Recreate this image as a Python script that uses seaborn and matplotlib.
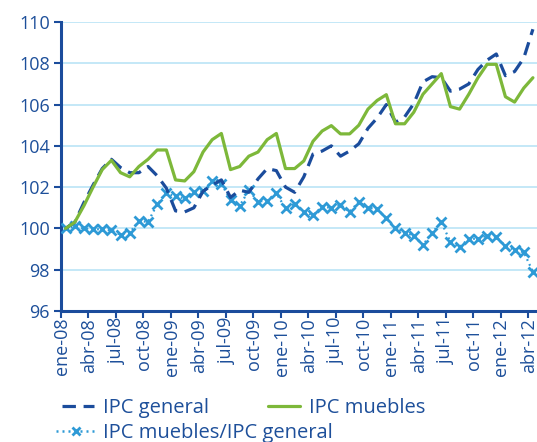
import matplotlib
matplotlib.use("Agg")
import matplotlib.pyplot as plt
from matplotlib.lines import Line2D
from matplotlib.transforms import ScaledTranslation
import seaborn as sns
import numpy as np
import pandas as pd

# ---- data ----
meses = ["ene", "feb", "mar", "abr", "may", "jun", "jul", "ago", "sep", "oct", "nov", "dic"]
periodos = [f"{m}-{a:02d}" for a in range(8, 13) for m in meses][:52]

ipc_general = [100.0, 100.3, 101.25, 102.1, 102.9, 103.35, 102.95, 102.7, 102.7, 103.0,
               102.55, 101.95, 100.85, 100.8, 101.0, 101.8, 102.1, 102.35, 101.5, 101.85,
               101.75, 102.4, 102.9, 102.8, 102.0, 101.75, 102.5, 103.6, 103.75, 104.0,
               103.5, 103.75, 104.1, 104.85, 105.35, 106.0, 105.15, 105.4, 106.05, 107.1,
               107.35, 107.3, 106.65, 106.75, 107.0, 107.7, 108.15, 108.45, 107.4, 107.6,
               108.25, 109.65]

ipc_muebles = [100.0, 100.3, 101.1, 102.0, 102.85, 103.3, 102.7, 102.5, 103.0, 103.35,
               103.8, 103.8, 102.35, 102.3, 102.75, 103.7, 104.3, 104.6, 102.85, 103.0,
               103.5, 103.7, 104.3, 104.6, 102.9, 102.9, 103.27, 104.22, 104.72, 104.98,
               104.58, 104.58, 105.0, 105.78, 106.2, 106.48, 105.07, 105.07, 105.63, 106.5,
               107.0, 107.5, 105.9, 105.78, 106.5, 107.3, 107.95, 107.95, 106.38, 106.12,
               106.8, 107.3]

ratio = [100.0, 100.1, 100.0, 99.97, 99.95, 99.9, 99.7, 99.8, 100.35, 100.32,
         101.17, 101.7, 101.55, 101.45, 101.75, 101.8, 102.3, 102.15, 101.4, 101.1,
         101.85, 101.3, 101.35, 101.7, 100.98, 101.2, 100.8, 100.65, 101.05, 101.0,
         101.15, 100.8, 101.3, 101.0, 100.95, 100.5, 100.0, 99.8, 99.65, 99.2,
         99.8, 100.3, 99.35, 99.1, 99.5, 99.5, 99.65, 99.6, 99.15, 98.95,
         98.85, 97.9]

yticks = [96, 98, 100, 102, 104, 106, 108, 110]

df = pd.DataFrame({"idx": np.arange(len(periodos)), "periodo": periodos,
                   "IPC general": ipc_general, "IPC muebles": ipc_muebles,
                   "IPC muebles/IPC general": ratio})

# ---- style ----
sns.set_style("white")
plt.rcParams["font.family"] = ["Open Sans", "DejaVu Sans"]

TXT = "#1D4F9A"
C_GEN = "#1B4C9C"
C_MUE = "#7DB83A"
C_RAT = "#2E9AD6"
GRID = "#BFE6F7"

fig = plt.figure(figsize=(5.37, 4.42), dpi=100)
ax = fig.add_axes([61 / 537, 131 / 442, 476.5 / 537, 289 / 442])

sns.lineplot(data=df, x="idx", y="IPC muebles/IPC general", ax=ax, color=C_RAT,
             linestyle=(0, (0.8, 1.6)), linewidth=1.6, marker="x", markersize=7.5,
             markeredgewidth=2.0, markeredgecolor=C_RAT, zorder=3)
sns.lineplot(data=df, x="idx", y="IPC general", ax=ax, color=C_GEN,
             linestyle=(0, (4.2, 2.4)), linewidth=2.3, zorder=4)
sns.lineplot(data=df, x="idx", y="IPC muebles", ax=ax, color=C_MUE,
             linewidth=2.3, zorder=5)

ax.set_xlim(-0.5, len(periodos) - 0.5)
ax.set_ylim(96, 110)
ax.set_yticks(yticks)
ax.set_yticklabels([str(v) for v in yticks])
ax.yaxis.grid(True, color=GRID, linewidth=1.3)
ax.set_axisbelow(True)

# category labels every 3 months at category centres, tick marks at boundaries
lab_pos = list(range(0, len(periodos), 3))
ax.set_xticks(lab_pos)
ax.set_xticklabels([periodos[i] for i in lab_pos], rotation=90)
ax.set_xticks([p - 0.5 for p in lab_pos], minor=True)
ax.tick_params(axis="x", which="major", length=0, pad=5, labelsize=13, colors=TXT)
ax.tick_params(axis="x", which="minor", length=5, width=1.5, color=C_GEN, direction="out", bottom=True)
ax.tick_params(axis="y", which="major", length=5, width=1.5, color=C_GEN, direction="out",
               labelsize=13, labelcolor=TXT, pad=3, left=True)
shift = ScaledTranslation(-4 / 100, 0, fig.dpi_scale_trans)
for lab in ax.get_xticklabels():
    lab.set_transform(lab.get_transform() + shift)

for s in ["top", "right"]:
    ax.spines[s].set_visible(False)
for s in ["left", "bottom"]:
    ax.spines[s].set_color(C_GEN)
    ax.spines[s].set_linewidth(2.2)

ax.set_xlabel("")
ax.set_ylabel("")

# ---- legend ----
h_gen = Line2D([], [], color=C_GEN, linestyle=(0, (4.2, 2.4)), linewidth=2.3)
h_mue = Line2D([], [], color=C_MUE, linewidth=2.3)
h_rat = Line2D([], [], color=C_RAT, linestyle=(0, (0.8, 1.6)), linewidth=1.8,
               marker="x", markersize=6, markeredgewidth=2.0)

leg1 = fig.legend([h_gen, h_mue], ["IPC general", "IPC muebles"], ncol=2,
                  loc="center left", bbox_to_anchor=(62 / 537, 1 - 408 / 442),
                  frameon=False, fontsize=14.5, handlelength=1.6, handletextpad=0.45,
                  columnspacing=2.9, borderpad=0, borderaxespad=0, labelcolor=TXT)
leg2 = fig.legend([h_rat], ["IPC muebles/IPC general"], loc="center left",
                  bbox_to_anchor=(56 / 537, 1 - 433 / 442), frameon=False, fontsize=14.5,
                  handlelength=2.0, handletextpad=0.35, numpoints=1, borderpad=0,
                  borderaxespad=0, labelcolor=TXT)

fig.savefig("out.png", dpi=100)
